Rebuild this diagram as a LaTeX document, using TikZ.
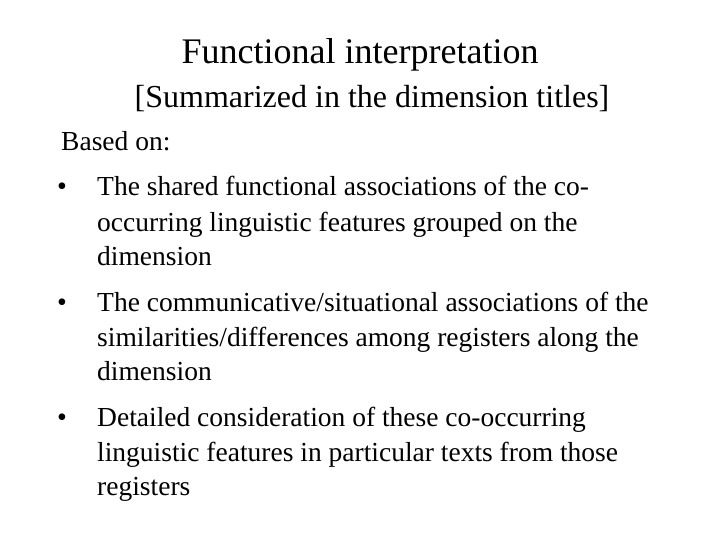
\documentclass[tikz,border=0pt]{standalone}
\usepackage{fontspec}
\setmainfont{Liberation Serif}
\begin{document}
\begin{tikzpicture}[x=1pt,y=-1pt,
  body/.style={anchor=base west,inner sep=0pt,font=\fontsize{27.5}{32}\selectfont},
  bul/.style={anchor=base west,inner sep=0pt,font=\fontsize{28}{32}\selectfont}]
\useasboundingbox (0,0) rectangle (720,540);
\node[anchor=base,inner sep=0pt,font=\fontsize{36}{40}\selectfont] (t1) at (360,64) {Functional interpretation};
\node[anchor=base,inner sep=0pt,font=\fontsize{32}{36}\selectfont] (t2) at (372,108) {[Summarized in the dimension titles]};
\node[body] (b0) at (61,151) {Based on:};
\node[bul] (p1) at (57,196) {•};
\node[body] (l11) at (97,196) {The shared functional associations of the co-};
\node[body] (l12) at (97,231) {occurring linguistic features grouped on the};
\node[body] (l13) at (97,265) {dimension};
\node[bul] (p2) at (57,311) {•};
\node[body] (l21) at (97,311) {The communicative/situational associations of the};
\node[body] (l22) at (97,346) {similarities/differences among registers along the};
\node[body] (l23) at (97,380) {dimension};
\node[bul] (p3) at (57,426) {•};
\node[body] (l31) at (97,426) {Detailed consideration of these co-occurring};
\node[body] (l32) at (97,461) {linguistic features in particular texts from those};
\node[body] (l33) at (97,495) {registers};
\end{tikzpicture}
\end{document}
